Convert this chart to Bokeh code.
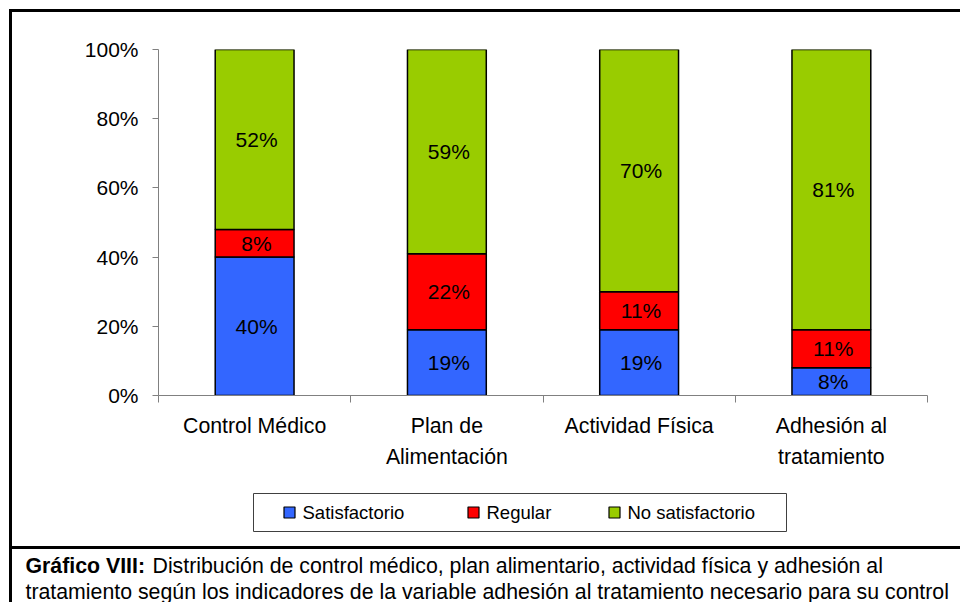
import numpy as np
from bokeh.plotting import figure
from bokeh.models import ColumnDataSource, Range1d, FixedTicker, NumeralTickFormatter
from bokeh.core.properties import value
from bokeh.embed import file_html
from bokeh.resources import INLINE

categories = ["Control Médico", "Plan de\nAlimentación", "Actividad Física", "Adhesión al\ntratamiento"]
satisfactorio = [0.40, 0.19, 0.19, 0.08]
regular = [0.08, 0.22, 0.11, 0.11]
no_satisfactorio = [0.52, 0.59, 0.70, 0.81]
series_names = ["Satisfactorio", "Regular", "No satisfactorio"]
colors = ["#3366FF", "#FF0000", "#99CC00"]
y_ticks = [0, 0.2, 0.4, 0.6, 0.8, 1.0]
caption_bold = "Gráfico VIII:"
caption_line1 = "Distribución de control médico, plan alimentario, actividad física y adhesión al"
caption_line2 = "tratamiento según los indicadores de la variable adhesión al tratamiento necesario para su control"

FONT = "Liberation Sans"
n = len(categories)
xc = [i + 0.5 for i in range(n)]

# frame geometry (pixels)
FL, FR, FT, FB = 158, 927, 49, 395

src = ColumnDataSource(dict(x=xc, sat=satisfactorio, reg=regular, nos=no_satisfactorio))

p = figure(width=960, height=602, output_backend="svg", toolbar_location=None,
           x_range=Range1d(0, n), y_range=Range1d(0, 1),
           min_border_left=FL, min_border_right=960 - FR, min_border_top=FT, min_border_bottom=602 - FB)
# pixel coordinate ranges for page decorations
p.extra_x_ranges = {"px": Range1d(FL, FR)}
p.extra_y_ranges = {"py": Range1d(FB, FT)}
p.outline_line_color = None
p.xgrid.grid_line_color = None
p.ygrid.grid_line_color = None
p.background_fill_color = "white"
p.border_fill_color = "white"

rs = p.vbar_stack(["sat", "reg", "nos"], x="x", width=0.41, color=colors, source=src,
                  line_color="black", line_width=1.5)

# data labels
vals = np.array([satisfactorio, regular, no_satisfactorio])
bottoms = np.vstack([np.zeros(n), np.cumsum(vals, axis=0)[:-1]])
mids = bottoms + vals / 2
lx, ly, lt = [], [], []
for s in range(3):
    for i in range(n):
        lx.append(xc[i] + 0.01)
        ly.append(mids[s, i])
        lt.append(f"{round(vals[s, i] * 100)}%")
p.text(x=lx, y=ly, text=lt, text_align="center", text_baseline="middle",
       text_font=value(FONT), text_font_size="21px", text_color="black")

# axes
p.yaxis.ticker = FixedTicker(ticks=y_ticks)
p.yaxis.formatter = NumeralTickFormatter(format="0%")
p.yaxis.minor_tick_line_color = None
p.yaxis.major_tick_in = 0
p.yaxis.major_tick_out = 6
p.yaxis.axis_line_color = "#808080"
p.yaxis.major_tick_line_color = "#808080"
p.yaxis.major_label_text_font = FONT
p.yaxis.major_label_text_font_size = "21px"
p.yaxis.major_label_text_color = "black"
p.yaxis.major_label_standoff = 14

p.xaxis.ticker = FixedTicker(ticks=list(range(n + 1)))
p.xaxis.minor_tick_line_color = None
p.xaxis.major_tick_in = 0
p.xaxis.major_tick_out = 7
p.xaxis.axis_line_color = "#808080"
p.xaxis.major_tick_line_color = "#808080"
p.xaxis.major_label_text_font_size = "0px"
p.xaxis.major_label_text_color = None

# category labels (overlay level: not clipped to the frame)
p.text(x=xc, y=[0] * n, text=categories, y_offset=18, level="overlay",
       text_align="center", text_baseline="top", text_font=value(FONT),
       text_font_size="21.3px", text_color="black", text_line_height=1.33)

# page borders and caption separator
deco = dict(x_range_name="px", y_range_name="py", level="overlay")
p.segment(x0=[10, 10, 10], y0=[10, 10, 547], x1=[1000, 10, 1000], y1=[10, 700, 547],
          line_color="black", line_width=3, line_cap="square", **deco)

# legend (drawn in pixel space)
p.quad(left=[253], right=[786], top=[493], bottom=[531], fill_color="white",
       line_color="#404040", line_width=1, **deco)
leg_sq_x = [289, 473, 614]
leg_txt_x = [302, 486, 627]
p.rect(x=leg_sq_x, y=[512] * 3, width=11, height=11, width_units="screen", height_units="screen",
       fill_color=colors, line_color="black", line_width=1.2, **deco)
p.text(x=leg_txt_x, y=[512] * 3, text=series_names, text_baseline="middle", text_align="left",
       text_font=value(FONT), text_font_size="18.5px", text_color="black", **deco)

# caption
p.text(x=[25], y=[565], text=[caption_bold], text_baseline="middle", text_align="left",
       text_font=value(FONT), text_font_style="bold", text_font_size="21.3px", text_color="black", **deco)
p.text(x=[152, 25], y=[565, 591], text=[caption_line1, caption_line2], text_baseline="middle",
       text_align="left", text_font=value(FONT), text_font_size="21.3px", text_color="black", **deco)

open("out.html", "w").write(file_html(p, INLINE))
